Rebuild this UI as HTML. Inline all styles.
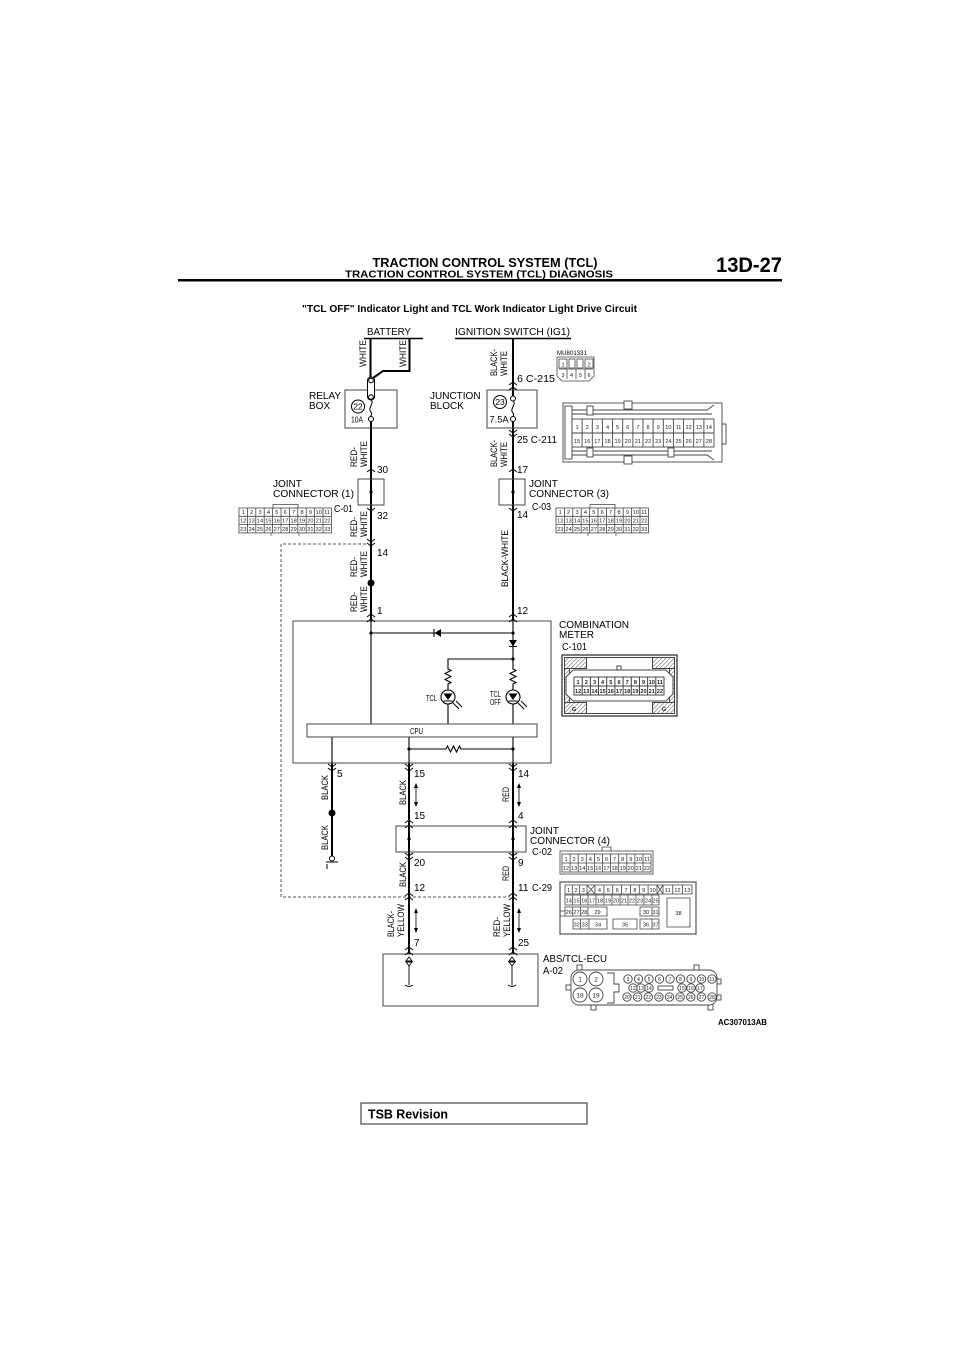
<!DOCTYPE html>
<html><head><meta charset="utf-8">
<style>
html,body{margin:0;padding:0;background:#fff;}
svg{display:block;}
text{font-family:"Liberation Sans",Arial,sans-serif;fill:#000;}
.g text{font-size:5.6px;fill:#222;}
.l{font-size:10px;}
.n{font-size:10px;}
.v{font-size:9.5px;}
</style></head><body>
<svg width="960" height="1358" viewBox="0 0 960 1358" xmlns="http://www.w3.org/2000/svg">
<defs>
<pattern id="h" width="3" height="3" patternUnits="userSpaceOnUse" patternTransform="rotate(45)"><line x1="0" y1="0" x2="0" y2="3" stroke="#555" stroke-width="1"/></pattern>
</defs>
<rect width="960" height="1358" fill="#fff"/>

<!-- Header -->
<text x="485" y="267" text-anchor="middle" font-weight="bold" font-size="13" textLength="225" lengthAdjust="spacingAndGlyphs">TRACTION CONTROL SYSTEM (TCL)</text>
<text x="479" y="277.5" text-anchor="middle" font-weight="bold" font-size="10.5" textLength="268" lengthAdjust="spacingAndGlyphs">TRACTION CONTROL SYSTEM (TCL) DIAGNOSIS</text>
<text x="716" y="272" font-weight="bold" font-size="21" textLength="66" lengthAdjust="spacingAndGlyphs">13D-27</text>
<rect x="178" y="279" width="604" height="2.5" fill="#000"/>
<text x="302" y="312" font-weight="bold" font-size="10" textLength="335" lengthAdjust="spacingAndGlyphs">"TCL OFF" Indicator Light and TCL Work Indicator Light Drive Circuit</text>

<!-- Top labels -->
<text class="l" x="367" y="335" textLength="44" lengthAdjust="spacingAndGlyphs">BATTERY</text>
<text class="l" x="455" y="335" textLength="115" lengthAdjust="spacingAndGlyphs">IGNITION SWITCH (IG1)</text>
<path d="M364,338.5H423M455,338.5H571" stroke="#000" stroke-width="1.5" fill="none"/>

<!-- main wires -->
<g stroke="#000" stroke-width="2" fill="none">
<path d="M370.5,338V377"/>
<path d="M409.5,338V371H383L373,378"/>
<path d="M371,422V621"/>
<path d="M513,338V396"/>
<path d="M513,422V621"/>
<path d="M332,763V856"/>
<path d="M409,763V954"/>
<path d="M513,763V954"/>
</g>

<!-- boxes -->
<g stroke="#444" stroke-width="1" fill="none">
<rect x="345" y="390" width="52" height="38"/>
<rect x="487" y="390" width="50" height="38"/>
<rect x="358" y="479" width="26" height="26"/>
<rect x="499" y="479" width="26" height="26"/>
<rect x="293" y="621" width="258" height="142"/>
<rect x="396" y="826" width="130" height="26"/>
<rect x="383" y="954" width="155" height="52"/>
</g>

<!-- relay fuse -->
<rect x="367.5" y="377" width="7" height="23" rx="3.5" fill="#fff" stroke="#000" stroke-width="1"/>
<circle cx="371" cy="380.5" r="2.3" fill="#fff" stroke="#000"/>
<circle cx="371" cy="397" r="2.3" fill="#fff" stroke="#000"/>
<path d="M371,399.5C375,403 367,408 371,412C372.5,414 371,415 371,416.5" fill="none" stroke="#000"/>
<circle cx="371" cy="419" r="2.5" fill="#fff" stroke="#000"/>
<circle cx="358" cy="406.5" r="6.5" fill="none" stroke="#000"/>
<text x="358" y="409.5" text-anchor="middle" font-size="8.5">22</text>
<text x="351" y="422.5" font-size="8.5" textLength="12" lengthAdjust="spacingAndGlyphs">10A</text>
<text class="l" x="309" y="399">RELAY</text>
<text class="l" x="309" y="409">BOX</text>

<!-- junction fuse -->
<circle cx="513" cy="398.5" r="2.5" fill="#fff" stroke="#000"/>
<path d="M513,401C517,404 509,409 513,413C514.5,415 513,416 513,416.5" fill="none" stroke="#000"/>
<circle cx="513" cy="419" r="2.5" fill="#fff" stroke="#000"/>
<circle cx="500" cy="402" r="6.5" fill="none" stroke="#000"/>
<text x="500" y="405" text-anchor="middle" font-size="8.5">23</text>
<text x="489.5" y="422.5" font-size="9" textLength="19" lengthAdjust="spacingAndGlyphs">7.5A</text>
<text class="l" x="430" y="399">JUNCTION</text>
<text class="l" x="430" y="409">BLOCK</text>

<!-- connector labels top -->
<text class="n" x="517" y="382" textLength="38" lengthAdjust="spacingAndGlyphs">6 C-215</text>
<text class="n" x="517" y="443" textLength="40" lengthAdjust="spacingAndGlyphs">25 C-211</text>
<text class="n" x="377" y="473">30</text>
<text class="n" x="517" y="473">17</text>
<text class="n" x="377" y="519">32</text>
<text class="n" x="517" y="518">14</text>
<text class="n" x="377" y="556">14</text>
<text class="n" x="377" y="614">1</text>
<text class="n" x="517" y="614">12</text>

<!-- JC1/JC3 -->
<circle cx="371" cy="492" r="1.6" fill="#000"/>
<circle cx="513" cy="492" r="1.6" fill="#000"/>
<text class="l" x="273" y="487">JOINT</text>
<text class="l" x="273" y="497" textLength="81" lengthAdjust="spacingAndGlyphs">CONNECTOR (1)</text>
<text class="n" x="334" y="512" textLength="19" lengthAdjust="spacingAndGlyphs">C-01</text>
<text class="l" x="529" y="487">JOINT</text>
<text class="l" x="529" y="497" textLength="80" lengthAdjust="spacingAndGlyphs">CONNECTOR (3)</text>
<text class="n" x="532" y="510" textLength="19" lengthAdjust="spacingAndGlyphs">C-03</text>

<!-- dots on wires -->
<circle cx="371" cy="583" r="3.5" fill="#000"/>
<circle cx="332" cy="813" r="3.5" fill="#000"/>

<!-- dashed -->
<path d="M366,544H281V897H510" fill="none" stroke="#555" stroke-width="1" stroke-dasharray="3,2"/>

<!-- chevrons -->
<g stroke="#000" stroke-width="1" fill="none">
<path d="M509,385l4,-3l4,3M509,390l4,-3l4,3"/>
<path d="M509,430l4,3l4,-3M509,434l4,3l4,-3"/>
<path d="M367,472l4,-3l4,3M509,472l4,-3l4,3"/>
<path d="M367,508l4,3l4,-3M509,508l4,3l4,-3"/>
<path d="M367,539l4,3l4,-3M367,543l4,3l4,-3"/>
<path d="M367,617l4,-3l4,3M367,622l4,-3l4,3M509,617l4,-3l4,3M509,622l4,-3l4,3"/>
<path d="M328,764l4,3l4,-3M328,768l4,3l4,-3M405,764l4,3l4,-3M405,768l4,3l4,-3M509,764l4,3l4,-3M509,768l4,3l4,-3"/>
<path d="M405,823l4,-3l4,3M405,828l4,-3l4,3M509,823l4,-3l4,3M509,828l4,-3l4,3"/>
<path d="M405,853l4,3l4,-3M405,857l4,3l4,-3M509,853l4,3l4,-3M509,857l4,3l4,-3"/>
<path d="M405,896l4,-3l4,3M405,900l4,-3l4,3M509,896l4,-3l4,3M509,900l4,-3l4,3"/>
<path d="M405,950l4,-3l4,3M405,955l4,-3l4,3M509,950l4,-3l4,3M509,955l4,-3l4,3"/>
</g>

<!-- rotated wire labels -->
<g class="v">
<text transform="translate(366,367) rotate(-90)" textLength="27" lengthAdjust="spacingAndGlyphs">WHITE</text>
<text transform="translate(406,367) rotate(-90)" textLength="27" lengthAdjust="spacingAndGlyphs">WHITE</text>
<text transform="translate(497,376) rotate(-90)" textLength="27" lengthAdjust="spacingAndGlyphs">BLACK-</text>
<text transform="translate(507,376) rotate(-90)" textLength="25" lengthAdjust="spacingAndGlyphs">WHITE</text>
<text transform="translate(497,467) rotate(-90)" textLength="27" lengthAdjust="spacingAndGlyphs">BLACK-</text>
<text transform="translate(507,467) rotate(-90)" textLength="25" lengthAdjust="spacingAndGlyphs">WHITE</text>
<text transform="translate(357,467) rotate(-90)" textLength="20" lengthAdjust="spacingAndGlyphs">RED-</text>
<text transform="translate(367,467) rotate(-90)" textLength="26" lengthAdjust="spacingAndGlyphs">WHITE</text>
<text transform="translate(357,537) rotate(-90)" textLength="20" lengthAdjust="spacingAndGlyphs">RED-</text>
<text transform="translate(367,537) rotate(-90)" textLength="26" lengthAdjust="spacingAndGlyphs">WHITE</text>
<text transform="translate(357,577) rotate(-90)" textLength="20" lengthAdjust="spacingAndGlyphs">RED-</text>
<text transform="translate(367,577) rotate(-90)" textLength="26" lengthAdjust="spacingAndGlyphs">WHITE</text>
<text transform="translate(357,612) rotate(-90)" textLength="20" lengthAdjust="spacingAndGlyphs">RED-</text>
<text transform="translate(367,612) rotate(-90)" textLength="26" lengthAdjust="spacingAndGlyphs">WHITE</text>
<text transform="translate(508,587) rotate(-90)" textLength="57" lengthAdjust="spacingAndGlyphs">BLACK-WHITE</text>
<text transform="translate(328,800) rotate(-90)" textLength="25" lengthAdjust="spacingAndGlyphs">BLACK</text>
<text transform="translate(328,850) rotate(-90)" textLength="25" lengthAdjust="spacingAndGlyphs">BLACK</text>
<text transform="translate(406,805) rotate(-90)" textLength="25" lengthAdjust="spacingAndGlyphs">BLACK</text>
<text transform="translate(406,887) rotate(-90)" textLength="25" lengthAdjust="spacingAndGlyphs">BLACK</text>
<text transform="translate(394,937) rotate(-90)" textLength="26" lengthAdjust="spacingAndGlyphs">BLACK-</text>
<text transform="translate(404,937) rotate(-90)" textLength="33" lengthAdjust="spacingAndGlyphs">YELLOW</text>
<text transform="translate(509,802) rotate(-90)" textLength="15" lengthAdjust="spacingAndGlyphs">RED</text>
<text transform="translate(509,881) rotate(-90)" textLength="15" lengthAdjust="spacingAndGlyphs">RED</text>
<text transform="translate(500,937) rotate(-90)" textLength="20" lengthAdjust="spacingAndGlyphs">RED-</text>
<text transform="translate(510,937) rotate(-90)" textLength="33" lengthAdjust="spacingAndGlyphs">YELLOW</text>
</g>

<!-- MU801331 -->
<text x="557" y="355" font-size="6" textLength="30" lengthAdjust="spacingAndGlyphs">MU801331</text>
<g stroke="#444" stroke-width="0.8" fill="none">
<path d="M557,357H594V376L589,381H562L557,376Z"/>
<rect x="559" y="359" width="8" height="9"/>
<rect x="569" y="359" width="6" height="9"/>
<rect x="577" y="359" width="6" height="9"/>
<rect x="585" y="359" width="8" height="9"/>
<path d="M559,369H593M567,369V379M576,369V379M585,369V379"/>
</g>
<g class="g" text-anchor="middle">
<text><tspan x="563" y="366.5">1</tspan><tspan x="589" y="366.5">2</tspan><tspan x="563" y="377">3</tspan><tspan x="571.5" y="377">4</tspan><tspan x="580.5" y="377">5</tspan><tspan x="589" y="377">6</tspan></text>
</g>

<!-- C-211 connector -->
<g stroke="#444" stroke-width="0.9" fill="none">
<rect x="563" y="403" width="159" height="59"/>
<rect x="565" y="406" width="7" height="53"/>
<path d="M572,410H707L714,405M572,414H712M572,451H712M572,455H707L714,460"/>
<rect x="587" y="406" width="6" height="9" fill="#fff"/>
<rect x="624" y="401" width="8" height="8" fill="#fff"/>
<rect x="587" y="448" width="6" height="9" fill="#fff"/>
<rect x="624" y="456" width="8" height="8" fill="#fff"/>
<rect x="668" y="448" width="6" height="9" fill="#fff"/>
<rect x="722" y="424" width="4" height="20"/>
<rect x="572" y="419" width="142" height="28" fill="#fff"/>
<path d="M572,433H714M582.1,419V447M592.3,419V447M602.4,419V447M612.6,419V447M622.7,419V447M632.9,419V447M643,419V447M653.1,419V447M663.3,419V447M673.4,419V447M683.6,419V447M693.7,419V447M703.9,419V447"/>
</g>
<g class="g" text-anchor="middle" style="font-size:6.3px">
<text><tspan x="577.1" y="429">1</tspan><tspan x="587.2" y="429">2</tspan><tspan x="597.4" y="429">3</tspan><tspan x="607.5" y="429">4</tspan><tspan x="617.6" y="429">5</tspan><tspan x="627.8" y="429">6</tspan><tspan x="637.9" y="429">7</tspan><tspan x="648.1" y="429">8</tspan><tspan x="658.2" y="429">9</tspan><tspan x="668.4" y="429">10</tspan><tspan x="678.5" y="429">11</tspan><tspan x="688.6" y="429">12</tspan><tspan x="698.8" y="429">13</tspan><tspan x="708.9" y="429">14</tspan></text>
<text><tspan x="577.1" y="443">15</tspan><tspan x="587.2" y="443">16</tspan><tspan x="597.4" y="443">17</tspan><tspan x="607.5" y="443">18</tspan><tspan x="617.6" y="443">19</tspan><tspan x="627.8" y="443">20</tspan><tspan x="637.9" y="443">21</tspan><tspan x="648.1" y="443">22</tspan><tspan x="658.2" y="443">23</tspan><tspan x="668.4" y="443">24</tspan><tspan x="678.5" y="443">25</tspan><tspan x="688.6" y="443">26</tspan><tspan x="698.8" y="443">27</tspan><tspan x="708.9" y="443">28</tspan></text>
</g>

<!-- C-01 grid -->
<g transform="translate(239,508)">
<g stroke="#444" stroke-width="0.8" fill="none">
<path d="M34,0V-3.5H59V0"/>
<path d="M32,24.9v3M60,24.9v3"/>
<rect x="0" y="0" width="92.4" height="24.9" fill="#fff"/>
<path d="M0,8.3H92.4M0,16.6H92.4M8.4,0V24.9M16.8,0V24.9M25.2,0V24.9M33.6,0V24.9M42,0V24.9M50.4,0V24.9M58.8,0V24.9M67.2,0V24.9M75.6,0V24.9M84,0V24.9"/>
</g>
<g class="g" text-anchor="middle">
<text><tspan x="4.2" y="6.2">1</tspan><tspan x="12.6" y="6.2">2</tspan><tspan x="21" y="6.2">3</tspan><tspan x="29.4" y="6.2">4</tspan><tspan x="37.8" y="6.2">5</tspan><tspan x="46.2" y="6.2">6</tspan><tspan x="54.6" y="6.2">7</tspan><tspan x="63" y="6.2">8</tspan><tspan x="71.4" y="6.2">9</tspan><tspan x="79.8" y="6.2">10</tspan><tspan x="88.2" y="6.2">11</tspan></text>
<text><tspan x="4.2" y="14.5">12</tspan><tspan x="12.6" y="14.5">13</tspan><tspan x="21" y="14.5">14</tspan><tspan x="29.4" y="14.5">15</tspan><tspan x="37.8" y="14.5">16</tspan><tspan x="46.2" y="14.5">17</tspan><tspan x="54.6" y="14.5">18</tspan><tspan x="63" y="14.5">19</tspan><tspan x="71.4" y="14.5">20</tspan><tspan x="79.8" y="14.5">21</tspan><tspan x="88.2" y="14.5">22</tspan></text>
<text><tspan x="4.2" y="22.8">23</tspan><tspan x="12.6" y="22.8">24</tspan><tspan x="21" y="22.8">25</tspan><tspan x="29.4" y="22.8">26</tspan><tspan x="37.8" y="22.8">27</tspan><tspan x="46.2" y="22.8">28</tspan><tspan x="54.6" y="22.8">29</tspan><tspan x="63" y="22.8">30</tspan><tspan x="71.4" y="22.8">31</tspan><tspan x="79.8" y="22.8">32</tspan><tspan x="88.2" y="22.8">33</tspan></text>
</g>
</g>

<!-- C-03 grid -->
<g transform="translate(556,508)">
<g stroke="#444" stroke-width="0.8" fill="none">
<path d="M34,0V-3.5H59V0"/>
<path d="M32,24.9v3M60,24.9v3"/>
<rect x="0" y="0" width="92.4" height="24.9" fill="#fff"/>
<path d="M0,8.3H92.4M0,16.6H92.4M8.4,0V24.9M16.8,0V24.9M25.2,0V24.9M33.6,0V24.9M42,0V24.9M50.4,0V24.9M58.8,0V24.9M67.2,0V24.9M75.6,0V24.9M84,0V24.9"/>
</g>
<g class="g" text-anchor="middle">
<text><tspan x="4.2" y="6.2">1</tspan><tspan x="12.6" y="6.2">2</tspan><tspan x="21" y="6.2">3</tspan><tspan x="29.4" y="6.2">4</tspan><tspan x="37.8" y="6.2">5</tspan><tspan x="46.2" y="6.2">6</tspan><tspan x="54.6" y="6.2">7</tspan><tspan x="63" y="6.2">8</tspan><tspan x="71.4" y="6.2">9</tspan><tspan x="79.8" y="6.2">10</tspan><tspan x="88.2" y="6.2">11</tspan></text>
<text><tspan x="4.2" y="14.5">12</tspan><tspan x="12.6" y="14.5">13</tspan><tspan x="21" y="14.5">14</tspan><tspan x="29.4" y="14.5">15</tspan><tspan x="37.8" y="14.5">16</tspan><tspan x="46.2" y="14.5">17</tspan><tspan x="54.6" y="14.5">18</tspan><tspan x="63" y="14.5">19</tspan><tspan x="71.4" y="14.5">20</tspan><tspan x="79.8" y="14.5">21</tspan><tspan x="88.2" y="14.5">22</tspan></text>
<text><tspan x="4.2" y="22.8">23</tspan><tspan x="12.6" y="22.8">24</tspan><tspan x="21" y="22.8">25</tspan><tspan x="29.4" y="22.8">26</tspan><tspan x="37.8" y="22.8">27</tspan><tspan x="46.2" y="22.8">28</tspan><tspan x="54.6" y="22.8">29</tspan><tspan x="63" y="22.8">30</tspan><tspan x="71.4" y="22.8">31</tspan><tspan x="79.8" y="22.8">32</tspan><tspan x="88.2" y="22.8">33</tspan></text>
</g>
</g>

<!-- Combination meter internals -->
<g stroke="#000" stroke-width="1.1" fill="none">
<path d="M371,621V724"/>
<path d="M371,633H513"/>
<path d="M513,621V669l3,1.5l-6,3l6,3l-6,3l6,3l-3,1.5V724"/>
<path d="M513,659H448V669l3,1.5l-6,3l6,3l-6,3l6,3l-3,1.5V724"/>
<path d="M332,737V763M409,737V763M513,737V763"/>
<path d="M409,749H446l1.5,-3l3,6l3,-6l3,6l3,-6l1.5,3H513"/>
<path d="M434,629V637M509,646.5H517"/>
</g>
<path d="M434.5,633L441,629V637Z" fill="#000"/>
<path d="M509,640H517L513,646.5Z" fill="#000"/>
<g fill="#000">
<circle cx="371" cy="633" r="1.6"/><circle cx="513" cy="633" r="1.6"/><circle cx="513" cy="659" r="1.6"/>
<circle cx="409" cy="749" r="1.6"/><circle cx="513" cy="749" r="1.6"/>
</g>
<!-- LEDs -->
<g stroke="#000" stroke-width="1.1" fill="#fff">
<circle cx="448" cy="697" r="7"/>
<circle cx="513" cy="697" r="7"/>
</g>
<path d="M443.5,693.5H452.5L448,700Z M508.5,693.5H517.5L513,700Z" fill="#000"/>
<g stroke="#000" stroke-width="1" fill="none">
<path d="M443.5,701H452.5M508.5,701H517.5"/>
<path d="M453,703L459,709M456,701L462,707M518,703L524,709M521,701L527,707"/>
</g>
<text x="426" y="701" font-size="8.5" textLength="11" lengthAdjust="spacingAndGlyphs">TCL</text>
<text x="490" y="697" font-size="8.5" textLength="11" lengthAdjust="spacingAndGlyphs">TCL</text>
<text x="490" y="705" font-size="8.5" textLength="11" lengthAdjust="spacingAndGlyphs">OFF</text>
<rect x="307" y="724" width="230" height="13" fill="#fff" stroke="#444" stroke-width="1"/>
<text x="416.5" y="734" font-size="8.5" text-anchor="middle" textLength="13" lengthAdjust="spacingAndGlyphs">CPU</text>

<text class="l" x="559" y="628" textLength="70" lengthAdjust="spacingAndGlyphs">COMBINATION</text>
<text class="l" x="559" y="638">METER</text>
<text class="n" x="562" y="650" textLength="25" lengthAdjust="spacingAndGlyphs">C-101</text>

<!-- C-101 connector -->
<g stroke="#444" stroke-width="1" fill="none">
<rect x="562" y="655" width="115" height="61" stroke-width="1.4"/>
<rect x="564.5" y="657.5" width="110" height="56"/>
<rect x="564.5" y="657.5" width="22" height="11" fill="url(#h)"/>
<rect x="652.5" y="657.5" width="22" height="11" fill="url(#h)"/>
<rect x="564.5" y="702.5" width="22" height="11" fill="url(#h)"/>
<rect x="652.5" y="702.5" width="22" height="11" fill="url(#h)"/>
<rect x="564.5" y="668.5" width="5" height="34" fill="url(#h)"/>
<rect x="669.5" y="668.5" width="5" height="34" fill="url(#h)"/>
<rect x="617" y="666" width="4" height="4"/>
<path d="M573,670H666L673,677V694L666,701H573L566,694V677Z" fill="#fff"/>
<rect x="574" y="677" width="90" height="18" fill="#fff"/>
<path d="M574,686H664M582.2,677V695M590.4,677V695M598.5,677V695M606.7,677V695M614.9,677V695M623.1,677V695M631.3,677V695M639.5,677V695M647.6,677V695M655.8,677V695"/>
</g>
<g class="g" text-anchor="middle" style="font-size:5.4px;font-weight:bold">
<text><tspan x="578.1" y="684">1</tspan><tspan x="586.3" y="684">2</tspan><tspan x="594.5" y="684">3</tspan><tspan x="602.6" y="684">4</tspan><tspan x="610.8" y="684">5</tspan><tspan x="619" y="684">6</tspan><tspan x="627.2" y="684">7</tspan><tspan x="635.4" y="684">8</tspan><tspan x="643.5" y="684">9</tspan><tspan x="651.7" y="684">10</tspan><tspan x="659.9" y="684">11</tspan></text>
<text><tspan x="578.1" y="693">12</tspan><tspan x="586.3" y="693">13</tspan><tspan x="594.5" y="693">14</tspan><tspan x="602.6" y="693">15</tspan><tspan x="610.8" y="693">16</tspan><tspan x="619" y="693">17</tspan><tspan x="627.2" y="693">18</tspan><tspan x="635.4" y="693">19</tspan><tspan x="643.5" y="693">20</tspan><tspan x="651.7" y="693">21</tspan><tspan x="659.9" y="693">22</tspan></text>
<text><tspan x="574" y="711">G</tspan><tspan x="664" y="711">G</tspan></text>
</g>

<!-- bottom numbers -->
<text class="n" x="337" y="777">5</text>
<text class="n" x="414" y="777">15</text>
<text class="n" x="518" y="777">14</text>
<text class="n" x="414" y="819">15</text>
<text class="n" x="518" y="819">4</text>
<text class="n" x="414" y="866">20</text>
<text class="n" x="518" y="866">9</text>
<text class="n" x="414" y="891">12</text>
<text class="n" x="518" y="891">11</text>
<text class="n" x="532" y="891" textLength="20" lengthAdjust="spacingAndGlyphs">C-29</text>
<text class="n" x="414" y="946">7</text>
<text class="n" x="518" y="946">25</text>

<!-- double arrows -->
<g stroke="#000" stroke-width="0.8"><path d="M416,786V804M519,786V804M416,911V930M519,911V930"/></g>
<g fill="#000">
<path d="M416,783L414,788H418Z M416,807L414,802H418Z M519,783L517,788H521Z M519,807L517,802H521Z"/>
<path d="M416,908L414,913H418Z M416,933L414,928H418Z M519,908L517,913H521Z M519,933L517,928H521Z"/>
</g>

<!-- ground -->
<circle cx="332" cy="858.5" r="2.5" fill="#fff" stroke="#000" stroke-width="1"/>
<path d="M326,862H338M327,864V869" stroke="#000" stroke-width="1" fill="none"/>

<!-- JC4 -->
<circle cx="409" cy="839" r="1.6" fill="#000"/>
<circle cx="513" cy="839" r="1.6" fill="#000"/>
<text class="l" x="530" y="834">JOINT</text>
<text class="l" x="530" y="844" textLength="80" lengthAdjust="spacingAndGlyphs">CONNECTOR (4)</text>
<text class="n" x="532" y="855" textLength="20" lengthAdjust="spacingAndGlyphs">C-02</text>

<!-- C-02 grid -->
<g stroke="#444" stroke-width="0.8" fill="none">
<path d="M602,851V847H611V851"/>
<rect x="560" y="851" width="93" height="23" fill="#fff"/>
<rect x="562" y="854" width="89" height="18"/>
<path d="M562,863H651M570.1,854V872M578.2,854V872M586.3,854V872M594.4,854V872M602.5,854V872M610.6,854V872M618.7,854V872M626.8,854V872M634.9,854V872M643,854V872"/>
</g>
<g class="g" text-anchor="middle" style="font-size:6px">
<text><tspan x="566" y="861">1</tspan><tspan x="574.1" y="861">2</tspan><tspan x="582.2" y="861">3</tspan><tspan x="590.3" y="861">4</tspan><tspan x="598.4" y="861">5</tspan><tspan x="606.5" y="861">6</tspan><tspan x="614.6" y="861">7</tspan><tspan x="622.7" y="861">8</tspan><tspan x="630.8" y="861">9</tspan><tspan x="638.9" y="861">10</tspan><tspan x="647" y="861">11</tspan></text>
<text><tspan x="566" y="870">12</tspan><tspan x="574.1" y="870">13</tspan><tspan x="582.2" y="870">14</tspan><tspan x="590.3" y="870">15</tspan><tspan x="598.4" y="870">16</tspan><tspan x="606.5" y="870">17</tspan><tspan x="614.6" y="870">18</tspan><tspan x="622.7" y="870">19</tspan><tspan x="630.8" y="870">20</tspan><tspan x="638.9" y="870">21</tspan><tspan x="647" y="870">22</tspan></text>
</g>

<!-- C-29 connector -->
<g stroke="#444" stroke-width="0.8" fill="none">
<rect x="560" y="882" width="136" height="52" stroke-width="1.1"/>
<path d="M565,885H692V894H565Z M572.3,885V894M579.6,885V894M587,885V894M595,885V894M603.9,885V894M612.7,885V894M621.6,885V894M630.4,885V894M639.3,885V894M648.1,885V894M657,885V894M663,885V894M672.7,885V894M682.4,885V894"/>
<path d="M587,885L595,894M595,885L587,894M657,885L663,894M663,885L657,894"/>
<path d="M565,895H659V905H565Z M572.7,895V905M580.4,895V905M588,895V905M596,895V905M604,895V905M612,895V905M620,895V905M628,895V905M636,895V905M644,895V905M652,895V905"/>
<path d="M565,907H607V916H565Z M572.7,907V916M580.4,907V916M588,907V916 M640,907H659V916H640Z M652,907V916"/>
<path d="M573,919H607V929H573Z M580.5,919V929M589,919V929 M613,919H637V929H613Z M640,919H659V929H640Z M652,919V929"/>
<path d="M667,898H690V927H667Z"/>
<path d="M560,911H565M560,916H565"/>
</g>
<g class="g" text-anchor="middle" style="font-size:6px">
<text><tspan x="568.7" y="892">1</tspan><tspan x="576" y="892">2</tspan><tspan x="583.3" y="892">3</tspan><tspan x="599.4" y="892">4</tspan><tspan x="608.3" y="892">5</tspan><tspan x="617.2" y="892">6</tspan><tspan x="626" y="892">7</tspan><tspan x="634.9" y="892">8</tspan><tspan x="643.7" y="892">9</tspan><tspan x="652.6" y="892">10</tspan><tspan x="667.8" y="892">11</tspan><tspan x="677.5" y="892">12</tspan><tspan x="687.2" y="892">13</tspan></text>
<text><tspan x="568.8" y="902.5">14</tspan><tspan x="576.5" y="902.5">15</tspan><tspan x="584.2" y="902.5">16</tspan><tspan x="592" y="902.5">17</tspan><tspan x="600" y="902.5">18</tspan><tspan x="608" y="902.5">19</tspan><tspan x="616" y="902.5">20</tspan><tspan x="624" y="902.5">21</tspan><tspan x="632" y="902.5">22</tspan><tspan x="640" y="902.5">23</tspan><tspan x="648" y="902.5">24</tspan><tspan x="655.5" y="902.5">25</tspan></text>
<text><tspan x="568.8" y="914">26</tspan><tspan x="576.5" y="914">27</tspan><tspan x="584.2" y="914">28</tspan><tspan x="597.5" y="914">29</tspan><tspan x="646" y="914">30</tspan><tspan x="655.5" y="914">31</tspan></text>
<text><tspan x="576.8" y="926.5">32</tspan><tspan x="584.7" y="926.5">33</tspan><tspan x="598" y="926.5">34</tspan><tspan x="625" y="926.5">35</tspan><tspan x="646" y="926.5">36</tspan><tspan x="655.5" y="926.5">37</tspan><tspan x="678.5" y="915">38</tspan></text>
</g>

<!-- ABS/TCL-ECU internals -->
<g stroke="#000" stroke-width="0.9" fill="none">
<path d="M409,957L406,961H412Z M406,962H412L409,966Z M409,966V985 M405,985Q409,988 413,985"/>
<path d="M512,957L509,961H515Z M509,962H515L512,966Z M512,966V985 M508,985Q512,988 516,985"/>
</g>
<text class="l" x="543" y="962" textLength="64" lengthAdjust="spacingAndGlyphs">ABS/TCL-ECU</text>
<text class="n" x="543" y="974" textLength="20" lengthAdjust="spacingAndGlyphs">A-02</text>

<!-- A-02 connector -->
<g stroke="#444" stroke-width="0.9" fill="#fff">
<rect x="577" y="965" width="5" height="6"/><rect x="694" y="965" width="5" height="6"/>
<rect x="591" y="1004" width="5" height="6"/><rect x="708" y="1004" width="5" height="6"/>
<rect x="566" y="985" width="6" height="5"/><rect x="715" y="979" width="6" height="5"/><rect x="715" y="995" width="6" height="5"/>
<rect x="571" y="970" width="146" height="35" rx="8"/>
<path d="M607,973H614V984H619V992H614V1003H607" fill="none"/>
<circle cx="580" cy="979" r="7"/><circle cx="596" cy="979" r="7"/><circle cx="580" cy="995" r="7"/><circle cx="596" cy="995" r="7"/>
<circle cx="628" cy="979" r="4.2"/><circle cx="638.5" cy="979" r="4.2"/><circle cx="649" cy="979" r="4.2"/><circle cx="659.5" cy="979" r="4.2"/><circle cx="670" cy="979" r="4.2"/><circle cx="680.5" cy="979" r="4.2"/><circle cx="691" cy="979" r="4.2"/><circle cx="701.5" cy="979" r="4.2"/><circle cx="712" cy="979" r="4.2"/>
<circle cx="633" cy="988" r="4.2"/><circle cx="641" cy="988" r="4.2"/><circle cx="649" cy="988" r="4.2"/>
<rect x="658" y="986" width="15" height="4"/>
<circle cx="682" cy="988" r="4.2"/><circle cx="691" cy="988" r="4.2"/><circle cx="700" cy="988" r="4.2"/>
<circle cx="627" cy="997" r="4.2"/><circle cx="637.6" cy="997" r="4.2"/><circle cx="648.3" cy="997" r="4.2"/><circle cx="658.9" cy="997" r="4.2"/><circle cx="669.5" cy="997" r="4.2"/><circle cx="680.1" cy="997" r="4.2"/><circle cx="690.8" cy="997" r="4.2"/><circle cx="701.4" cy="997" r="4.2"/><circle cx="712" cy="997" r="4.2"/>
</g>
<g class="g" text-anchor="middle" style="font-size:5.5px">
<text style="font-size:6.5px"><tspan x="580" y="981.5">1</tspan><tspan x="596" y="981.5">2</tspan><tspan x="580" y="997.5">18</tspan><tspan x="596" y="997.5">19</tspan></text>
<text style="font-size:5px"><tspan x="628" y="980.8">3</tspan><tspan x="638.5" y="980.8">4</tspan><tspan x="649" y="980.8">5</tspan><tspan x="659.5" y="980.8">6</tspan><tspan x="670" y="980.8">7</tspan><tspan x="680.5" y="980.8">8</tspan><tspan x="691" y="980.8">9</tspan><tspan x="701.5" y="980.8">10</tspan><tspan x="712" y="980.8">11</tspan></text>
<text style="font-size:5px"><tspan x="633" y="989.8">12</tspan><tspan x="641" y="989.8">13</tspan><tspan x="649" y="989.8">14</tspan><tspan x="682" y="989.8">15</tspan><tspan x="691" y="989.8">16</tspan><tspan x="700" y="989.8">17</tspan></text>
<text style="font-size:5px"><tspan x="627" y="998.8">20</tspan><tspan x="637.6" y="998.8">21</tspan><tspan x="648.3" y="998.8">22</tspan><tspan x="658.9" y="998.8">23</tspan><tspan x="669.5" y="998.8">24</tspan><tspan x="680.1" y="998.8">25</tspan><tspan x="690.8" y="998.8">26</tspan><tspan x="701.4" y="998.8">27</tspan><tspan x="712" y="998.8">28</tspan></text>
</g>

<text x="718" y="1025" font-weight="bold" font-size="8" textLength="49" lengthAdjust="spacingAndGlyphs">AC307013AB</text>

<!-- TSB Revision -->
<rect x="361" y="1103" width="226" height="21" fill="none" stroke="#555" stroke-width="1.3"/>
<text x="368" y="1118.5" font-weight="bold" font-size="12.5" textLength="80" lengthAdjust="spacingAndGlyphs">TSB Revision</text>
</svg>
</body></html>
